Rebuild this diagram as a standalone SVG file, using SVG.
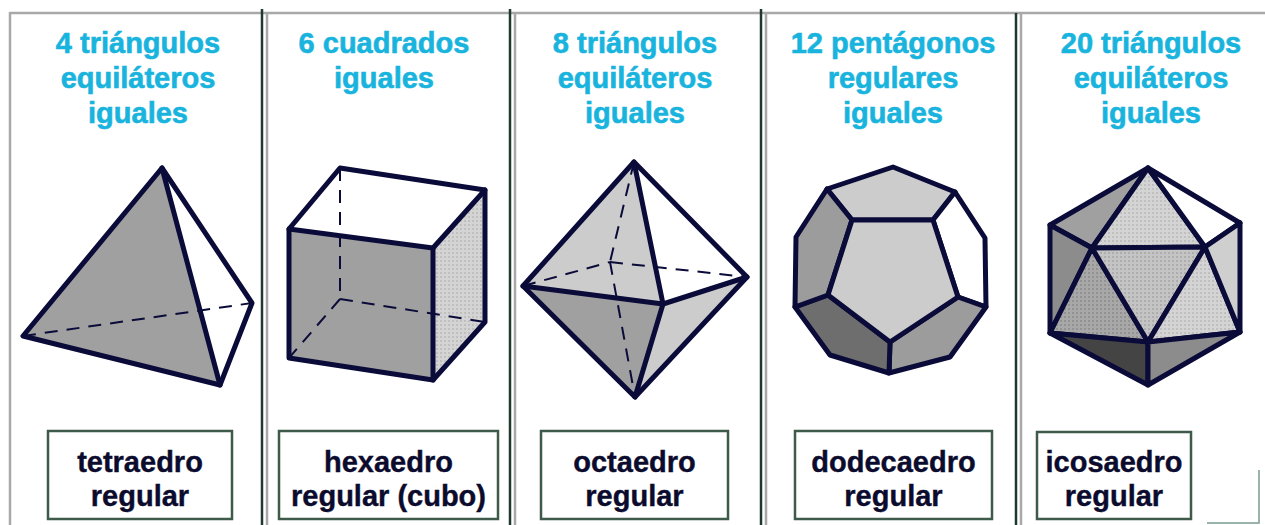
<svg xmlns="http://www.w3.org/2000/svg" width="1265" height="525" viewBox="0 0 1265 525">
<defs>
<pattern id="dots" width="4" height="4" patternUnits="userSpaceOnUse">
<rect width="4" height="4" fill="#d4d4d4"/>
<circle cx="1" cy="1" r="0.7" fill="#9a9a9a"/>
</pattern>
<pattern id="dots2" width="4" height="4" patternUnits="userSpaceOnUse">
<rect width="4" height="4" fill="#a8a8a8"/>
<circle cx="1" cy="1" r="0.8" fill="#777"/>
</pattern>
<pattern id="dots3" width="4" height="4" patternUnits="userSpaceOnUse">
<rect width="4" height="4" fill="#c4c4c4"/>
<circle cx="1" cy="1" r="0.8" fill="#909090"/>
</pattern>
</defs>
<style>
.title{font-family:"Liberation Sans",Arial,sans-serif;font-weight:bold;font-size:29px;fill:#19b4de;stroke:#19b4de;stroke-width:0.6;text-anchor:middle}
.lbl{font-family:"Liberation Sans",Arial,sans-serif;font-weight:bold;font-size:29px;fill:#0b0b2e;stroke:#0b0b2e;stroke-width:0.4;text-anchor:middle}
.box{fill:#fff;stroke:#3d5a4a;stroke-width:2.5}
.edge{fill:none;stroke:#0b0b3a;stroke-width:5;stroke-linejoin:round;stroke-linecap:round}
.face{stroke:#0b0b3a;stroke-width:5;stroke-linejoin:round}
.dash{fill:none;stroke:#0b0b3a;stroke-width:2;stroke-dasharray:13 9}
.dark{stroke:#1f3a2c;stroke-width:2.5}
.grey{stroke:#a8a8a8;stroke-width:2.5}
</style>
<rect width="1265" height="525" fill="#fff"/>
<g id="frame">
<line class="grey" x1="10" y1="13" x2="1265" y2="13"/>
<line class="grey" x1="10" y1="12" x2="10" y2="525"/>
<line class="dark" x1="262" y1="9" x2="262" y2="525"/>
<line class="grey" x1="267" y1="12" x2="267" y2="525"/>
<line class="dark" x1="510" y1="9" x2="510" y2="525"/>
<line class="grey" x1="515" y1="12" x2="515" y2="525"/>
<line class="dark" x1="761" y1="9" x2="761" y2="525"/>
<line class="grey" x1="766" y1="12" x2="766" y2="525"/>
<line class="dark" x1="1016" y1="13" x2="1016" y2="525"/>
<line class="grey" x1="1021" y1="13" x2="1021" y2="525"/>
<polyline points="1207,523 1259,523 1259,470" fill="none" stroke="#7a9a90" stroke-width="1.5"/>
</g>
<g id="tetraedro">
<text class="title" x="138" y="53">4 triángulos</text>
<text class="title" x="138" y="88">equiláteros</text>
<text class="title" x="138" y="123">iguales</text>
<polygon points="162,168 23,336 220,385" fill="#a0a0a0"/>
<polygon points="162,168 252,303 220,385" fill="#fff"/>
<line class="dash" x1="23" y1="336" x2="252" y2="303"/>
<polygon class="edge" points="162,168 23,336 220,385 252,303"/>
<line class="edge" x1="162" y1="168" x2="220" y2="385"/>
<rect class="box" x="48" y="431" width="184" height="88"/>
<text class="lbl" x="140" y="472">tetraedro</text>
<text class="lbl" x="140" y="506">regular</text>
</g>
<g id="hexaedro">
<text class="title" x="384" y="53">6 cuadrados</text>
<text class="title" x="384" y="88">iguales</text>
<polygon points="289,229 340,168 485,190 433,248" fill="#fff"/>
<polygon points="289,229 433,248 433,380 289,358" fill="#a0a0a0"/>
<polygon points="433,248 485,190 485,322 433,380" fill="url(#dots)"/>
<line class="dash" x1="340" y1="168" x2="340" y2="299"/>
<line class="dash" x1="340" y1="299" x2="485" y2="322"/>
<line class="dash" x1="340" y1="299" x2="289" y2="358"/>
<polygon class="edge" points="289,229 340,168 485,190 485,322 433,380 289,358"/>
<polyline class="edge" points="289,229 433,248 485,190"/>
<line class="edge" x1="433" y1="248" x2="433" y2="380"/>
<rect class="box" x="279" y="431" width="219" height="88"/>
<text class="lbl" x="388.5" y="472">hexaedro</text>
<text class="lbl" x="388.5" y="506">regular (cubo)</text>
</g>
<g id="octaedro">
<text class="title" x="635" y="53">8 triángulos</text>
<text class="title" x="635" y="88">equiláteros</text>
<text class="title" x="635" y="123">iguales</text>
<polygon points="634,162 523,286 663,304" fill="#cccccc"/>
<polygon points="634,162 663,304 747,277" fill="#fff"/>
<polygon points="523,286 663,304 635,397" fill="#a0a0a0"/>
<polygon points="663,304 747,277 635,397" fill="#cccccc"/>
<line class="dash" x1="634" y1="162" x2="610" y2="262"/>
<line class="dash" x1="610" y1="262" x2="635" y2="397"/>
<line class="dash" x1="523" y1="286" x2="610" y2="262"/>
<line class="dash" x1="610" y1="262" x2="747" y2="277"/>
<polygon class="edge" points="634,162 747,277 635,397 523,286"/>
<polyline class="edge" points="634,162 663,304 635,397"/>
<polyline class="edge" points="523,286 663,304 747,277"/>
<rect class="box" x="541" y="431" width="187" height="88"/>
<text class="lbl" x="634.5" y="472">octaedro</text>
<text class="lbl" x="634.5" y="506">regular</text>
</g>
<g id="dodecaedro">
<text class="title" x="893" y="53">12 pentágonos</text>
<text class="title" x="893" y="88">regulares</text>
<text class="title" x="893" y="123">iguales</text>
<polygon class="face" points="827,189 893,167 955,192 933,220 852,220" fill="#cccccc"/>
<polygon class="face" points="955,192 985,238 986,307 958,297 933,220" fill="#fff"/>
<polygon class="face" points="986,307 950,357 889,373 890,342 958,297" fill="#9c9c9c"/>
<polygon class="face" points="889,373 830,355 795,307 828,295 890,342" fill="#6e6e6e"/>
<polygon class="face" points="795,307 796,237 827,189 852,220 828,295" fill="#9c9c9c"/>
<polygon class="face" points="852,220 933,220 958,297 890,342 828,295" fill="#cccccc"/>
<rect class="box" x="795" y="431" width="197" height="88"/>
<text class="lbl" x="893.5" y="472">dodecaedro</text>
<text class="lbl" x="893.5" y="506">regular</text>
</g>
<g id="icosaedro">
<text class="title" x="1151" y="53">20 triángulos</text>
<text class="title" x="1151" y="88">equiláteros</text>
<text class="title" x="1151" y="123">iguales</text>
<polygon class="face" points="1148,168 1050,225 1092,248" fill="#a0a0a0"/>
<polygon class="face" points="1148,168 1092,248 1205,247" fill="url(#dots)"/>
<polygon class="face" points="1148,168 1205,247 1240,223" fill="#fff"/>
<polygon class="face" points="1050,225 1092,248 1050,333" fill="#8c8c8c"/>
<polygon class="face" points="1092,248 1050,333 1148,342" fill="url(#dots2)"/>
<polygon class="face" points="1092,248 1205,247 1148,342" fill="url(#dots3)"/>
<polygon class="face" points="1205,247 1148,342 1240,332" fill="url(#dots)"/>
<polygon class="face" points="1205,247 1240,223 1240,332" fill="#cfcfcf"/>
<polygon class="face" points="1050,333 1148,342 1148,385" fill="#444"/>
<polygon class="face" points="1148,342 1240,332 1148,385" fill="#8c8c8c"/>
<rect class="box" x="1037" y="432" width="154" height="87"/>
<text class="lbl" x="1114" y="472">icosaedro</text>
<text class="lbl" x="1114" y="506">regular</text>
</g>
</svg>
